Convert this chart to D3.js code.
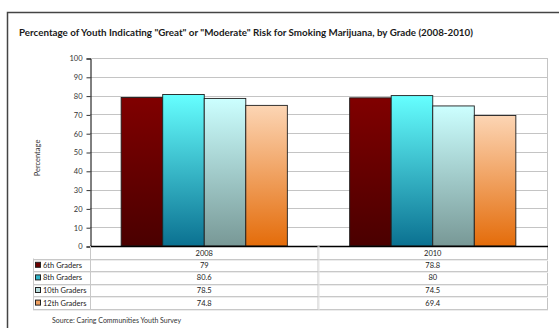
<!DOCTYPE html>
<html>
<head>
<meta charset="utf-8">
<script src="https://cdn.jsdelivr.net/npm/d3@7"></script>
<style>
  html, body { margin: 0; padding: 0; background: #fff; }
  svg { display: block; font-family: Lato, "Open Sans", sans-serif; }
</style>
</head>
<body>
<svg id="chart" width="559" height="328"></svg>
<script>
// Survey results: percent of youth rating marijuana smoking as "Great" or "Moderate" risk
const years = ["2008", "2010"];
const grades = ["6th Graders", "8th Graders", "10th Graders", "12th Graders"];
const grade6 = [79, 78.8];
const grade8 = [80.6, 80];
const grade10 = [78.5, 74.5];
const grade12 = [74.8, 69.4];
const yTicks = [0, 10, 20, 30, 40, 50, 60, 70, 80, 90, 100];

const seriesValues = [grade6, grade8, grade10, grade12];
const seriesColors = [
  { top: "#800000", bottom: "#4a0000", key: "#6b0000" },
  { top: "#66ffff", bottom: "#0b7191", key: "#31b4c8" },
  { top: "#ccffff", bottom: "#789896", key: "#b6dcdc" },
  { top: "#fcd5b4", bottom: "#e46c0a", key: "#f0a060" }
];

const svg = d3.select("#chart");

// Outer frame
svg.append("path")
  .attr("d", "M7.5,340 V12.5 H570")
  .attr("fill", "none")
  .attr("stroke", "#444")
  .attr("stroke-width", 1.5);

// Title
svg.append("text")
  .attr("x", 19).attr("y", 36)
  .attr("font-size", 9.8).attr("font-weight", "bold").attr("fill", "#1a1a1a")
  .text('Percentage of Youth Indicating "Great" or "Moderate" Risk for Smoking Marijuana, by Grade (2008-2010)');

const plotLeft = 90, plotRight = 547, plotTop = 58, plotBottom = 246;

const y = d3.scaleLinear().domain([0, 100]).range([plotBottom, plotTop]);
const x = d3.scaleBand().domain(years).range([plotLeft, plotRight]).padding(0);
const xg = d3.scaleBand().domain(grades).range([0, x.bandwidth()])
  .paddingInner(0).paddingOuter(0.75);

// Gradients
const defs = svg.append("defs");
seriesColors.forEach((c, i) => {
  const g = defs.append("linearGradient").attr("id", "grad" + i)
    .attr("x1", 0).attr("y1", 0).attr("x2", 0).attr("y2", 1);
  g.append("stop").attr("offset", "0%").attr("stop-color", c.top);
  g.append("stop").attr("offset", "100%").attr("stop-color", c.bottom);
});

// Gridlines
svg.append("g").selectAll("line").data(yTicks.filter(d => d > 0)).join("line")
  .attr("x1", plotLeft).attr("x2", plotRight)
  .attr("y1", d => Math.round(y(d)) + 0.5).attr("y2", d => Math.round(y(d)) + 0.5)
  .attr("stroke", "#c4c4c4").attr("stroke-width", 1);

// Right plot border
svg.append("line")
  .attr("x1", plotRight + 0.5).attr("x2", plotRight + 0.5)
  .attr("y1", plotTop).attr("y2", 309)
  .attr("stroke", "#c4c4c4");

// Y axis
const yAxis = d3.axisLeft(y).tickValues(yTicks).tickSize(4).tickPadding(4);
const ya = svg.append("g").attr("transform", `translate(${plotLeft + 0.5},0.5)`).call(yAxis);
ya.select(".domain").attr("stroke", "#000");
ya.selectAll(".tick line").attr("stroke", "#333");
ya.selectAll("text").attr("font-size", 7.5).attr("fill", "#333")
  .attr("font-family", "Lato, sans-serif");

// Y axis title
svg.append("text")
  .attr("transform", "translate(40,158) rotate(-90)")
  .attr("text-anchor", "middle").attr("font-size", 7.5).attr("fill", "#333")
  .text("Percentage");

// Bars
grades.forEach((gr, i) => {
  svg.append("g").selectAll("rect").data(years.map((yr, j) => ({ yr, v: seriesValues[i][j] })))
    .join("rect")
    .attr("x", d => x(d.yr) + xg(gr))
    .attr("y", d => y(d.v))
    .attr("width", xg.bandwidth())
    .attr("height", d => y(0) - y(d.v))
    .attr("fill", `url(#grad${i})`)
    .attr("stroke", "#1e1e1e")
    .attr("stroke-width", 0.9);
});

// X baseline
svg.append("line")
  .attr("x1", plotLeft).attr("x2", plotRight + 1)
  .attr("y1", plotBottom + 0.5).attr("y2", plotBottom + 0.5)
  .attr("stroke", "#000").attr("stroke-width", 1.4);

// Data table
const rowH = 12.6;
const headerBottom = 258.5;
const tableLeft = 33;
const rowLines = d3.range(5).map(k => headerBottom + k * rowH);

const tbl = svg.append("g");
rowLines.forEach(ly => {
  tbl.append("line").attr("x1", tableLeft).attr("x2", plotRight + 1)
    .attr("y1", Math.round(ly) + 0.5).attr("y2", Math.round(ly) + 0.5)
    .attr("stroke", "#c8c8c8");
  tbl.append("line").attr("x1", tableLeft).attr("x2", plotRight + 1)
    .attr("y1", Math.round(ly) + 1.5).attr("y2", Math.round(ly) + 1.5)
    .attr("stroke", "#ececec");
});
// Vertical table lines
tbl.append("line").attr("x1", tableLeft + 0.5).attr("x2", tableLeft + 0.5)
  .attr("y1", headerBottom).attr("y2", rowLines[4] + 1).attr("stroke", "#c8c8c8");
tbl.append("line").attr("x1", plotLeft + 0.5).attr("x2", plotLeft + 0.5)
  .attr("y1", plotBottom).attr("y2", rowLines[4] + 1).attr("stroke", "#c8c8c8");
years.slice(1).forEach(yr => {
  tbl.append("line").attr("x1", x(yr) - 0.5).attr("x2", x(yr) - 0.5)
    .attr("y1", plotBottom).attr("y2", rowLines[4] + 1).attr("stroke", "#c8c8c8");
  tbl.append("line").attr("x1", x(yr) + 0.5).attr("x2", x(yr) + 0.5)
    .attr("y1", plotBottom).attr("y2", rowLines[4] + 1).attr("stroke", "#e6e6e6");
});

// Header (years)
tbl.selectAll(".yr").data(years).join("text")
  .attr("x", d => x(d) + x.bandwidth() / 2).attr("y", 255.5)
  .attr("text-anchor", "middle").attr("font-size", 7.5).attr("fill", "#222")
  .text(d => d);

// Rows: legend key + label + values
grades.forEach((gr, i) => {
  const cy = headerBottom + i * rowH + rowH / 2;
  tbl.append("rect")
    .attr("x", 35.5).attr("y", cy - 2.5).attr("width", 5).attr("height", 5)
    .attr("fill", seriesColors[i].key).attr("stroke", "#222").attr("stroke-width", 1);
  tbl.append("text").attr("x", 43).attr("y", cy + 3)
    .attr("font-size", 7.5).attr("fill", "#222").text(gr);
  years.forEach((yr, j) => {
    tbl.append("text").attr("x", x(yr) + x.bandwidth() / 2).attr("y", cy + 3)
      .attr("text-anchor", "middle").attr("font-size", 7.5).attr("fill", "#222")
      .text(seriesValues[i][j]);
  });
});

// Source note
svg.append("text").attr("x", 52).attr("y", 323)
  .attr("font-size", 7).attr("fill", "#333")
  .text("Source: Caring Communities Youth Survey");
</script>
</body>
</html>
